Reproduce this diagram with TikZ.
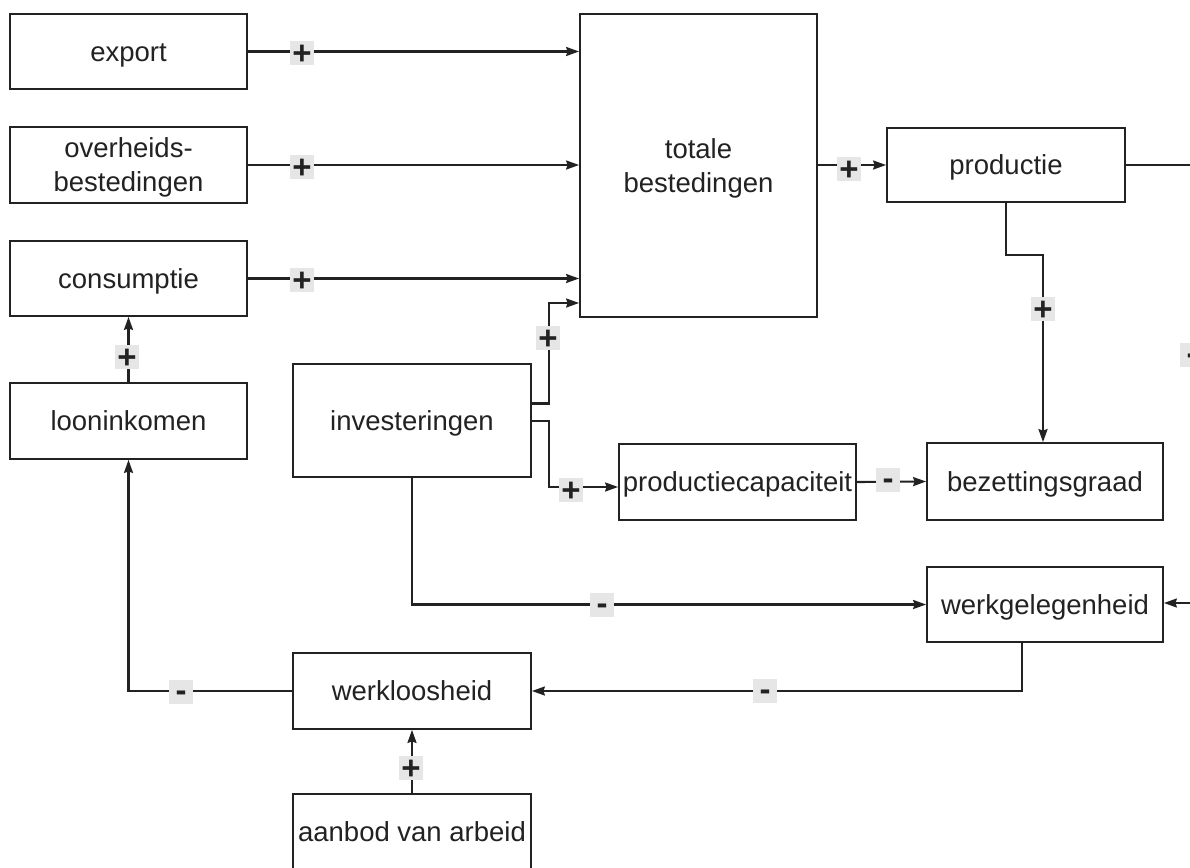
\documentclass[tikz,border=0pt]{standalone}
\usepackage{fontspec}
\setmainfont{Liberation Sans}
\usetikzlibrary{arrows.meta,calc}
\definecolor{ink}{HTML}{222222}
\definecolor{lbl}{HTML}{E6E6E6}
\begin{document}
\begin{tikzpicture}[x=1pt,y=-1pt,
  box/.style={draw=ink,line width=1.8pt,rectangle,inner sep=0pt,align=center,
    text=ink,font=\fontsize{27.5}{34}\selectfont,text height=24pt,text depth=5pt},
  box2/.style={draw=ink,line width=1.8pt,rectangle,inner sep=0pt},
  boxtext/.style={align=center,text=ink,font=\fontsize{27.5}{34}\selectfont,inner sep=0pt,yshift=-2.5pt},
  con/.style={draw=ink,line width=2.1pt},
  arr/.style={con,-{Stealth[length=13pt,width=9pt,inset=1.5pt]}},
  sign/.style={fill=lbl,minimum width=24pt,minimum height=24pt,inner sep=0pt,
    text=ink,font=\fontsize{33}{33}\selectfont\bfseries,text depth=0pt},
  plus/.style={sign,text height=23.4pt},
  minus/.style={sign,text height=18.2pt}]
\useasboundingbox[fill=white] (0,0) rectangle (1190,867);
% boxes
\node[box,minimum width=237pt,minimum height=75pt] (export) at (128.5,51.5) {export};
\node[box2,minimum width=237pt,minimum height=76pt,
  label={[boxtext]center:overheids-\\bestedingen}] (overheid) at (128.5,165) {};
\node[box,minimum width=237pt,minimum height=75pt] (consumptie) at (128.5,278.5) {consumptie};
\node[box,minimum width=237pt,minimum height=76pt] (loon) at (128.5,421) {looninkomen};
\node[box2,minimum width=237pt,minimum height=303pt,
  label={[boxtext]center:totale\\bestedingen}] (totale) at (698.5,165.5) {};
\node[box,minimum width=238pt,minimum height=74pt] (productie) at (1006,165) {productie};
\node[box,minimum width=238pt,minimum height=113pt] (invest) at (412,420.5) {investeringen};
\node[box,minimum width=237pt,minimum height=76pt] (prodcap) at (737.5,482) {productiecapaciteit};
\node[box,minimum width=236pt,minimum height=77pt] (bezet) at (1045,481.5) {bezettingsgraad};
\node[box,minimum width=236pt,minimum height=75pt] (werkgel) at (1045,604.5) {werkgelegenheid};
\node[box,minimum width=238pt,minimum height=76pt] (werkloos) at (412,691) {werkloosheid};
\node[box,minimum width=238pt,minimum height=76pt] (aanbod) at (412,832) {aanbod van arbeid};
\coordinate (rt) at (1197,165);
% connectors
\draw[arr] (export.east) -- (export.east -| totale.west);
\draw[arr] (overheid.east) -- (overheid.east -| totale.west);
\draw[arr] (consumptie.east) -- (consumptie.east -| totale.west);
\draw[arr] ([yshift=17pt]invest.east) -- ++(17,0) |- ([yshift=-137.5pt]totale.west);
\draw[arr] ([yshift=-0.5pt]invest.east) -- ++(17,0) |- ([yshift=-5pt]prodcap.west);
\draw[arr] (prodcap.east) -- (bezet.west);
\draw[arr] (productie.west -| totale.east) -- (productie.west);
\draw[arr] (productie.south) -- ++(0,52) -| ([xshift=-2pt]bezet.north);
\draw[con] (productie.east) -- (rt);
\draw[arr] (rt) |- ([yshift=1.5pt]werkgel.east);
\draw[arr] (invest.south) |- (werkgel.west);
\draw[arr] ([xshift=-23pt]werkgel.south) |- (werkloos.east);
\draw[arr] (werkloos.west) -| (loon.south);
\draw[arr] (loon.north) -- (consumptie.south);
\draw[arr] (aanbod.north) -- (werkloos.south);
% signs
\node[plus] (s1) at (302,53) {+};
\node[plus] (s2) at (302,167) {+};
\node[plus] (s3) at (302,280) {+};
\node[plus] (s4) at (548,338) {+};
\node[plus] (s5) at (571,490) {+};
\node[plus] (s6) at (849,169) {+};
\node[minus] (s7) at (888,480) {-};
\node[plus] (s8) at (1043,309) {+};
\node[minus] (s9) at (1192,355) {-};
\node[minus] (s10) at (602,605) {-};
\node[minus] (s11) at (765,691) {-};
\node[minus] (s12) at (181,692) {-};
\node[plus] (s13) at (127,357) {+};
\node[plus] (s14) at (411,768) {+};
\end{tikzpicture}
\end{document}
